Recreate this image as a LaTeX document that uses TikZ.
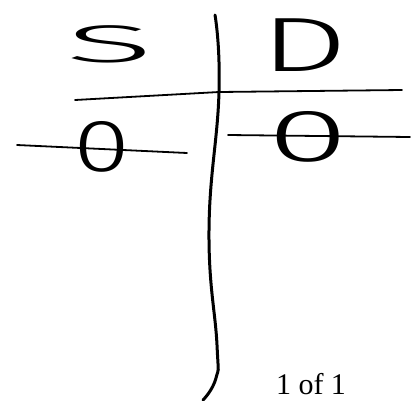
\documentclass[tikz,border=0pt]{standalone}
\usepackage{fontspec}
\setmainfont{Liberation Serif}
\newfontfamily\handfont{Fira Sans}[UprightFont=* Light]
\tikzset{pen/.style={line width=1.8pt, line cap=round, line join=round},
  axis/.style={line width=3pt, line cap=round},
  hand/.style={font=\handfont, inner sep=0pt}}

\begin{document}
\begin{tikzpicture}[x=1pt,y=-1pt]
  \useasboundingbox (0,0) rectangle (415,400);
  % account heads
  \node[hand] (s) at (110,44) {\fontsize{53}{55}\selectfont\scalebox{3.1}[1]{S}};
  \node[hand] (d) at (304,45) {\fontsize{77}{80}\selectfont\scalebox{1.8}[1]{D}};
  % the T
  \coordinate (vtop) at (215,15);
  \coordinate (cross) at (219,92);
  \coordinate (vbot) at (203,400);
  \coordinate (hleft) at (75,100);
  \coordinate (hright) at (402,90);
  \draw[axis] plot[smooth, tension=0.8] coordinates {(vtop) (cross) (209,230) (217,345) (216,378) (vbot)};
  \draw[pen] (hleft) -- (cross) -- (hright);
  % balances
  \node[hand] (zl) at (102,147) {\fontsize{74}{76}\selectfont\scalebox{1.4}[1]{0}};
  \node[hand] (zr) at (308,137) {\fontsize{74}{76}\selectfont\scalebox{2.0}[1]{0}};
  \coordinate (zla) at (17,145);
  \coordinate (zlb) at (187,153);
  \coordinate (zra) at (228,135);
  \coordinate (zrb) at (410,137);
  \draw[pen] (zla) -- (zlb);
  \draw[pen] (zra) -- (zrb);
  % page count
  \node[font=\fontsize{30}{32}\selectfont] (page) at (311,384) {1 of 1};
\end{tikzpicture}
\end{document}
